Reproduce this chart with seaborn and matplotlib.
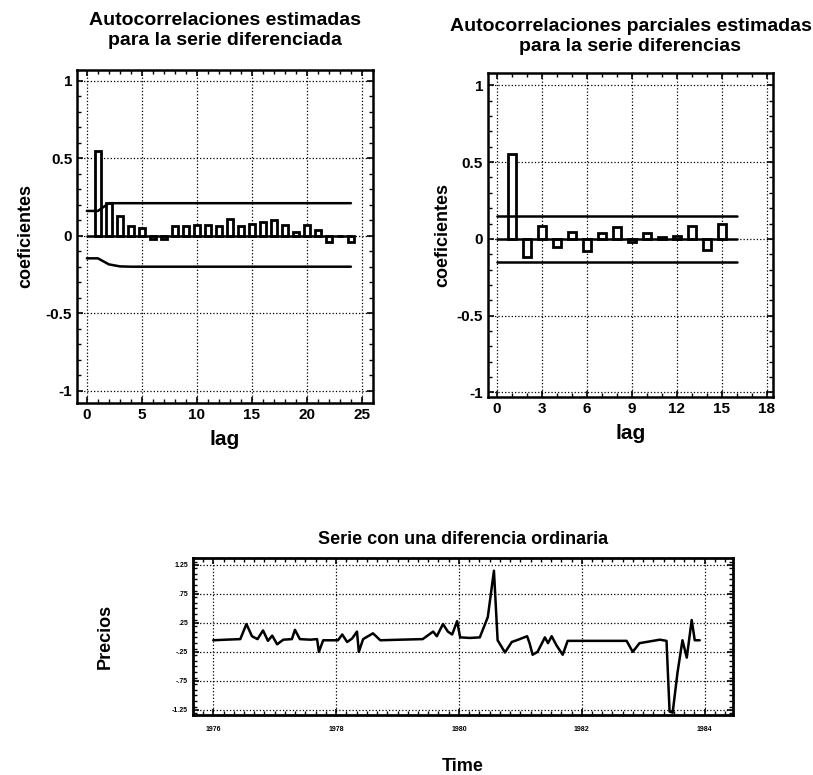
import numpy as np
import pandas as pd
import seaborn as sb
import matplotlib
matplotlib.use("Agg")
import matplotlib.pyplot as plt
from matplotlib.ticker import MultipleLocator

# ---- data ----
# ACF of the differenced series
acf_lags = list(range(1, 25))
acf_vals = [0.55, 0.21, 0.13, 0.065, 0.05, -0.02, -0.02, 0.06, 0.06, 0.07, 0.07, 0.065,
            0.11, 0.06, 0.075, 0.09, 0.10, 0.07, 0.025, 0.07, 0.04, -0.04, 0.0, -0.04]
band_lags = list(range(0, 25))
acf_upper = [0.16, 0.16, 0.21, 0.21, 0.21, 0.21, 0.21, 0.21, 0.21, 0.21, 0.21, 0.21, 0.21,
             0.21, 0.21, 0.21, 0.21, 0.21, 0.21, 0.21, 0.21, 0.21, 0.21, 0.21, 0.21]
acf_lower = [-0.146, -0.146, -0.185, -0.198, -0.2, -0.2, -0.2, -0.2, -0.2, -0.2, -0.2, -0.2, -0.2,
             -0.2, -0.2, -0.2, -0.2, -0.2, -0.2, -0.2, -0.2, -0.2, -0.2, -0.2, -0.2]

# PACF
pacf_lags = list(range(1, 16))
pacf_vals = [0.55, -0.12, 0.087, -0.05, 0.043, -0.076, 0.04, 0.076, -0.02, 0.04,
             0.01, 0.02, 0.087, -0.072, 0.098]
pacf_band_lags = [0, 16]
pacf_upper = [0.152, 0.152]
pacf_lower = [-0.152, -0.152]

# differenced price series
time = [1976.00, 1976.20, 1976.44, 1976.54, 1976.63, 1976.72, 1976.81, 1976.89, 1976.96,
        1977.04, 1977.14, 1977.28, 1977.33, 1977.41, 1977.58, 1977.69, 1977.72, 1977.79,
        1978.03, 1978.10, 1978.18, 1978.26, 1978.34, 1978.37, 1978.44, 1978.60, 1978.72,
        1979.04, 1979.41, 1979.58, 1979.64, 1979.74, 1979.82, 1979.89, 1979.97, 1980.02,
        1980.18, 1980.34, 1980.47, 1980.57, 1980.63, 1980.75, 1980.86, 1980.99, 1981.11,
        1981.15, 1981.20, 1981.28, 1981.40, 1981.45, 1981.51, 1981.59, 1981.69, 1981.77,
        1982.29, 1982.73, 1982.83, 1982.94, 1983.27, 1983.38, 1983.43, 1983.48, 1983.56,
        1983.64, 1983.71, 1983.79, 1983.84, 1983.92]
precios = [-0.05, -0.04, -0.03, 0.23, 0.02, -0.03, 0.12, -0.06, 0.03,
           -0.12, -0.04, -0.03, 0.13, -0.03, -0.04, -0.03, -0.25, -0.05,
           -0.05, 0.05, -0.08, -0.02, 0.10, -0.25, -0.03, 0.07, -0.05,
           -0.04, -0.03, 0.10, 0.02, 0.23, 0.10, 0.05, 0.28, 0.00,
           -0.01, 0.00, 0.35, 1.15, -0.05, -0.26, -0.08, -0.03, 0.02,
           -0.10, -0.30, -0.25, 0.00, -0.10, 0.02, -0.14, -0.30, -0.06,
           -0.06, -0.06, -0.25, -0.10, -0.04, -0.06, -1.28, -1.30, -0.60,
           -0.05, -0.35, 0.30, -0.05, -0.05]
year_ticks = [1976, 1978, 1980, 1982, 1984]
year_labels = ["1976", "1978", "1980", "1982", "1984"]
precio_ticks = [1.25, 0.75, 0.25, -0.25, -0.75, -1.25]
precio_labels = ["1.25", ".75", ".25", "-.25", "-.75", "-1.25"]

sb.set_style("ticks")
plt.rcParams['font.family'] = ['Liberation Sans', 'DejaVu Sans']
plt.rcParams['font.weight'] = 'bold'
plt.rcParams['text.color'] = 'black'
plt.rcParams['axes.labelcolor'] = 'black'
plt.rcParams['xtick.color'] = 'black'
plt.rcParams['ytick.color'] = 'black'

fig = plt.figure(figsize=(8.13, 7.75), dpi=100)
ax1 = fig.add_axes([0.0947, 0.48, 0.364, 0.4297])
ax2 = fig.add_axes([0.6002, 0.4877, 0.3506, 0.418])
ax3 = fig.add_axes([0.2374, 0.0774, 0.664, 0.2026])


def style_axes(ax, lw=1.8):
    for s in ax.spines.values():
        s.set_linewidth(lw)
        s.set_color('black')
    ax.tick_params(which='both', direction='in', top=True, right=True, color='black')
    ax.tick_params(which='major', length=4, width=1.2, labelsize=11)
    ax.tick_params(which='minor', length=3, width=1.0)
    ax.grid(True, which='major', ls=':', color='black', lw=0.9)
    ax.set_axisbelow(True)


# ---- ACF ----
sb.barplot(x=acf_lags, y=acf_vals, native_scale=True, width=0.6, color='white',
           edgecolor='black', linewidth=2.0, errorbar=None, ax=ax1)
sb.lineplot(x=band_lags, y=acf_upper, color='black', lw=1.8, ax=ax1)
sb.lineplot(x=band_lags, y=acf_lower, color='black', lw=1.8, ax=ax1)
ax1.plot([0, 24], [0, 0], color='black', lw=1.8)
ax1.set_xlim(-0.9, 26.0)
ax1.set_ylim(-1.08, 1.07)
ax1.set_xticks([0, 5, 10, 15, 20, 25])
ax1.set_xticklabels(["0", "5", "10", "15", "20", "25"])
ax1.xaxis.set_minor_locator(MultipleLocator(1))
ax1.set_yticks([-1, -0.5, 0, 0.5, 1])
ax1.set_yticklabels(["-1", "-0.5", "0", "0.5", "1"])
ax1.yaxis.set_minor_locator(MultipleLocator(0.1))
style_axes(ax1)
ax1.set_title("Autocorrelaciones estimadas\npara la serie diferenciada",
              fontsize=14, fontweight='bold', pad=18)
ax1.set_xlabel("lag", fontsize=15, fontweight='bold', labelpad=6)
ax1.set_ylabel("coeficientes", fontsize=13, fontweight='bold', labelpad=8)

# ---- PACF ----
sb.barplot(x=pacf_lags, y=pacf_vals, native_scale=True, width=0.5, color='white',
           edgecolor='black', linewidth=2.0, errorbar=None, ax=ax2)
sb.lineplot(x=pacf_band_lags, y=pacf_upper, color='black', lw=1.8, ax=ax2)
sb.lineplot(x=pacf_band_lags, y=pacf_lower, color='black', lw=1.8, ax=ax2)
ax2.plot([0, 16], [0, 0], color='black', lw=1.8)
ax2.set_xlim(-0.6, 18.4)
ax2.set_ylim(-1.03, 1.08)
ax2.set_xticks([0, 3, 6, 9, 12, 15, 18])
ax2.set_xticklabels(["0", "3", "6", "9", "12", "15", "18"])
ax2.xaxis.set_minor_locator(MultipleLocator(1))
ax2.set_yticks([-1, -0.5, 0, 0.5, 1])
ax2.set_yticklabels(["-1", "-0.5", "0", "0.5", "1"])
ax2.yaxis.set_minor_locator(MultipleLocator(0.1))
style_axes(ax2)
ax2.set_title("Autocorrelaciones parciales estimadas\npara la serie diferencias",
              fontsize=14, fontweight='bold', pad=16)
ax2.set_xlabel("lag", fontsize=15, fontweight='bold', labelpad=6)
ax2.set_ylabel("coeficientes", fontsize=13, fontweight='bold', labelpad=4)

# ---- differenced series ----
serie = pd.DataFrame({"Time": time, "Precios": precios})
sb.lineplot(data=serie, x="Time", y="Precios", color='black', lw=1.8, ax=ax3)
ax3.set_xlim(1975.67, 1984.46)
ax3.set_ylim(-1.34, 1.37)
ax3.set_xticks(year_ticks)
ax3.set_xticklabels(year_labels)
ax3.set_yticks(precio_ticks)
ax3.set_yticklabels(precio_labels)
ax3.yaxis.set_minor_locator(MultipleLocator(0.1))
ax3.xaxis.set_minor_locator(MultipleLocator(1 / 6))
style_axes(ax3, lw=2.0)
ax3.tick_params(which='major', labelsize=5)
ax3.tick_params(axis='x', which='major', pad=8)
ax3.set_title("Serie con una diferencia ordinaria", fontsize=13, fontweight='bold', pad=10)
ax3.set_xlabel("Time", fontsize=13, fontweight='bold', labelpad=18)
ax3.set_ylabel("Precios", fontsize=13, fontweight='bold', labelpad=42)

fig.savefig("out.png", dpi=100, facecolor='white')
